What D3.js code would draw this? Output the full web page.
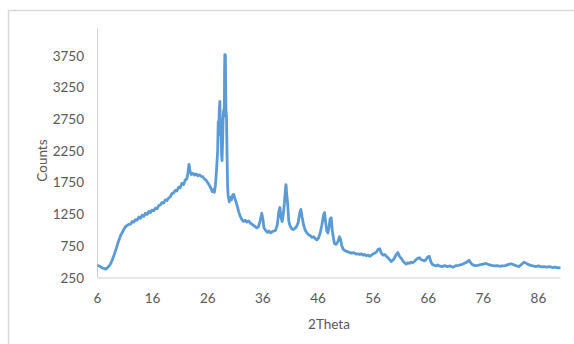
<!DOCTYPE html>
<html>
<head>
<meta charset="utf-8">
<script src="https://cdn.jsdelivr.net/npm/d3@7"></script>
<style>
  body { margin: 0; background: #fff; }
  .tick-label { font-family: Lato, "Open Sans", sans-serif; font-size: 13.5px; fill: #595959; }
  .axis-title { font-family: Lato, "Open Sans", sans-serif; font-size: 13.5px; fill: #595959; }
</style>
</head>
<body>
<div id="chart"></div>
<script>
// XRD scan, values
var twoTheta = [
  6.0, 6.3, 6.6, 6.9, 7.2, 7.5, 7.8, 8.1, 8.4, 8.7, 9.0, 9.3, 9.6, 9.9, 10.2, 10.5, 10.8, 11.1, 11.4, 11.7,
  12.0, 12.3, 12.6, 12.9, 13.2, 13.5, 13.8, 14.1, 14.4, 14.7, 15.0, 15.3, 15.6, 15.9, 16.2, 16.5, 16.8, 17.1, 17.4, 17.7,
  18.0, 18.3, 18.6, 18.9, 19.2, 19.5, 19.8, 20.1, 20.4, 20.7, 21.0, 21.3, 21.6, 21.9, 22.2, 22.4, 22.6, 22.8, 23.0, 23.3,
  23.6, 23.9, 24.2, 24.5, 24.8, 25.1, 25.4, 25.7, 26.0, 26.3, 26.6, 26.8, 27.0, 27.2, 27.4, 27.6, 27.8, 27.9, 28.0, 28.1,
  28.2, 28.3, 28.4, 28.5, 28.6, 28.7, 28.8, 28.9, 29.0, 29.05, 29.1, 29.2, 29.3, 29.4, 29.5, 29.6, 29.7, 29.9, 30.1, 30.3,
  30.5, 30.7, 30.9, 31.1, 31.3, 31.6, 31.9, 32.2, 32.5, 32.8, 33.1, 33.4, 33.7, 34.0, 34.3, 34.6, 34.9, 35.2, 35.5, 35.8,
  36.0, 36.2, 36.5, 36.8, 37.1, 37.4, 37.7, 38.0, 38.3, 38.6, 38.9, 39.1, 39.3, 39.5, 39.7, 39.9, 40.1, 40.2, 40.3, 40.5,
  40.7, 40.9, 41.2, 41.5, 41.8, 42.1, 42.4, 42.7, 42.9, 43.1, 43.4, 43.7, 44.0, 44.3, 44.6, 44.9, 45.2, 45.5, 45.8, 46.1,
  46.4, 46.7, 47.0, 47.2, 47.4, 47.6, 47.8, 48.0, 48.2, 48.4, 48.6, 48.8, 49.0, 49.3, 49.6, 49.9, 50.1, 50.3, 50.6, 50.9,
  51.2, 51.5, 51.8, 52.1, 52.4, 52.7, 53.0, 53.3, 53.6, 53.9, 54.2, 54.5, 54.8, 55.1, 55.4, 55.7, 56.0, 56.3, 56.6, 56.9,
  57.2, 57.5, 57.8, 58.1, 58.4, 58.7, 59.0, 59.3, 59.6, 59.9, 60.2, 60.5, 60.8, 61.1, 61.4, 61.7, 62.0, 62.3, 62.6, 62.9,
  63.2, 63.5, 63.8, 64.1, 64.4, 64.7, 65.0, 65.3, 65.6, 65.9, 66.2, 66.5, 66.8, 67.1, 67.4, 67.7, 68.0, 68.5, 69.0, 69.5,
  70.0, 70.5, 71.0, 71.5, 72.0, 72.5, 73.0, 73.4, 73.7, 74.0, 74.5, 75.0, 75.5, 76.0, 76.5, 77.0, 77.5, 78.0, 78.5, 79.0,
  79.5, 80.0, 80.5, 81.0, 81.5, 82.0, 82.5, 83.0, 83.4, 83.8, 84.2, 84.6, 85.0, 85.5, 86.0, 86.5, 87.0, 87.5, 88.0, 88.5,
  89.0, 89.5, 90.0
];
var counts = [
  450, 440, 425, 405, 400, 390, 410, 440, 480, 540, 610, 690, 770, 850, 920, 970, 1020, 1060, 1080, 1095,
  1100, 1140, 1130, 1170, 1160, 1210, 1190, 1240, 1220, 1270, 1250, 1300, 1280, 1320, 1310, 1350, 1340, 1390, 1400, 1440,
  1430, 1480, 1470, 1510, 1530, 1580, 1590, 1630, 1620, 1680, 1670, 1740, 1720, 1790, 1810, 1900, 2040, 1930, 1880, 1900,
  1870, 1890, 1860, 1875, 1850, 1845, 1810, 1790, 1750, 1710, 1660, 1610, 1640, 1600, 1720, 1960, 2250, 2700, 2600, 2900,
  3030, 2500, 2750, 2200, 2100, 2400, 2800, 2900, 2800, 3500, 3770, 3760, 2900, 2800, 2200, 1700, 1550, 1450, 1520, 1480,
  1550, 1570, 1510, 1460, 1400, 1300, 1220, 1170, 1140, 1160, 1130, 1150, 1120, 1100, 1080, 1060, 1040, 1060, 1150, 1270,
  1180, 1040, 1000, 970, 990, 960, 980, 990, 1000, 1080, 1300, 1360, 1200, 1140, 1250, 1420, 1650, 1720, 1600, 1420,
  1150, 1080, 1030, 1010, 1030, 1060, 1120, 1280, 1330, 1220, 1080, 1000, 960, 930, 920, 890, 900, 870, 850, 880,
  960, 1080, 1240, 1280, 1120, 990, 960, 1050, 1180, 1200, 1000, 880, 790, 780, 820, 900, 860, 760, 700, 680,
  670, 660, 650, 640, 650, 640, 625, 630, 620, 630, 610, 620, 600, 610, 590, 610, 630, 640, 660, 700,
  710, 640, 610, 620, 590, 570, 540, 510, 530, 570, 620, 650, 590, 560, 520, 490, 470, 490, 480, 500,
  490, 510, 540, 560, 570, 540, 530, 520, 540, 580, 590, 500, 460, 450, 440, 455, 440, 430, 445, 430,
  440, 420, 445, 450, 460, 480, 500, 530, 490, 460, 445, 450, 460, 470, 480, 460, 450, 440, 445, 435,
  440, 445, 460, 475, 460, 440, 430, 470, 500, 480, 460, 450, 440, 430, 440, 425, 430, 420, 430, 415,
  420, 410, 415
];
var xTicks = [6, 16, 26, 36, 46, 56, 66, 76, 86];
var yTicks = [250, 750, 1250, 1750, 2250, 2750, 3250, 3750];

var width = 574, height = 344;
var plot = { left: 97.5, right: 560.5, top: 28.5, bottom: 278 };

var svg = d3.select("#chart").append("svg")
    .attr("width", width)
    .attr("height", height);

// chart area border (runs off the right and bottom of the picture)
svg.append("rect")
    .attr("x", 8.5).attr("y", 10.5)
    .attr("width", 620).attr("height", 400)
    .attr("fill", "#fff")
    .attr("stroke", "#d9d9d9")
    .attr("stroke-width", 1.5);

var x = d3.scaleLinear().domain([6, 90]).range([plot.left, plot.right]);
var y = d3.scaleLinear().domain([250, 4180]).range([plot.bottom, plot.top]);

// axis lines
svg.append("line")
    .attr("x1", plot.left).attr("x2", plot.left)
    .attr("y1", plot.top).attr("y2", plot.bottom)
    .attr("stroke", "#d0d0d0").attr("stroke-width", 1);
svg.append("line")
    .attr("x1", plot.left).attr("x2", plot.right)
    .attr("y1", plot.bottom).attr("y2", plot.bottom)
    .attr("stroke", "#d0d0d0").attr("stroke-width", 1);

svg.selectAll(".xlab").data(xTicks).enter().append("text")
    .attr("class", "tick-label")
    .attr("x", function(d) { return x(d); })
    .attr("y", 298)
    .attr("dy", "0.35em")
    .attr("text-anchor", "middle")
    .text(function(d) { return d; });

svg.selectAll(".ylab").data(yTicks).enter().append("text")
    .attr("class", "tick-label")
    .attr("x", 84)
    .attr("y", function(d) { return y(d); })
    .attr("dy", "0.35em")
    .attr("text-anchor", "end")
    .text(function(d) { return d; });

svg.append("text")
    .attr("class", "axis-title")
    .attr("x", x(48)).attr("y", 324)
    .attr("dy", "0.35em")
    .attr("text-anchor", "middle")
    .text("2Theta");

svg.append("text")
    .attr("class", "axis-title")
    .attr("transform", "translate(42," + y(2100) + ") rotate(-90)")
    .attr("dy", "0.35em")
    .attr("text-anchor", "middle")
    .text("Counts");

var points = twoTheta.map(function(d, i) { return [d, counts[i]]; });

var line = d3.line()
    .x(function(d) { return x(d[0]); })
    .y(function(d) { return y(d[1]); });

svg.append("path")
    .datum(points)
    .attr("fill", "none")
    .attr("stroke", "#5b9bd5")
    .attr("stroke-width", 2.8)
    .attr("stroke-linejoin", "round")
    .attr("d", line);
</script>
</body>
</html>
